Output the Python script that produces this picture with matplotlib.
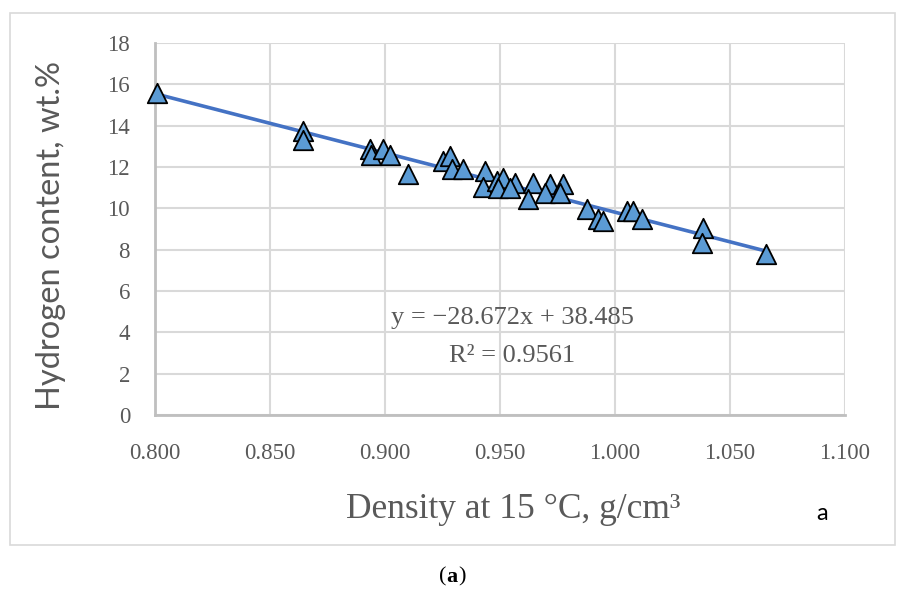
import numpy as np
import matplotlib
matplotlib.use('Agg')
import matplotlib.pyplot as plt
from matplotlib.patches import Rectangle

# density (g/cm3) and hydrogen content (wt.%) of the samples
density = [0.801, 0.8645, 0.8642, 0.8935, 0.894, 0.8993, 0.9022, 0.9101,
           0.9253, 0.9283, 0.9290, 0.9340, 0.9435, 0.9427, 0.9486, 0.9514,
           0.9493, 0.9565, 0.9543, 0.9645, 0.9623, 0.9717, 0.9696, 0.9775,
           0.9761, 0.9877, 0.9927, 0.9949, 1.0051, 1.0080, 1.0116, 1.0384,
           1.0377, 1.0657]
hydrogen = [15.6, 13.73, 13.33, 12.85, 12.6, 12.85, 12.6, 11.64,
            12.29, 12.53, 11.89, 11.89, 11.80, 11.05, 11.32, 11.48,
            11.0, 11.24, 11.0, 11.24, 10.43, 11.16, 10.76, 11.16,
            10.76, 9.95, 9.47, 9.39, 9.87, 9.87, 9.47, 9.06,
            8.34, 7.77]

# linear trend reported on the chart
slope = -28.672
intercept = 38.485
r2 = 0.9561

x_ticks = [0.800, 0.850, 0.900, 0.950, 1.000, 1.050, 1.100]
y_ticks = [0, 2, 4, 6, 8, 10, 12, 14, 16, 18]

serif = ['Liberation Serif', 'DejaVu Serif']
sans = ['Lato', 'DejaVu Sans']
grey_txt = '#595959'

fig = plt.figure(figsize=(9.08, 5.90), dpi=100)
W, H = 908, 590

# light frame around the chart area
fig.patches.append(Rectangle((10 / W, 1 - 545 / H), 885 / W, 532 / H,
                             transform=fig.transFigure, fill=False,
                             edgecolor='#D9D9D9', linewidth=1.2))

ax = fig.add_axes([155 / W, 1 - 415 / H, 690 / W, 372 / H])
ax.set_xlim(0.8, 1.1)
ax.set_ylim(0, 18)
ax.set_xticks(x_ticks)
ax.set_yticks(y_ticks)
ax.set_xticklabels([f'{v:.3f}' for v in x_ticks])
ax.set_yticklabels([str(v) for v in y_ticks])
ax.grid(True, color='#D9D9D9', linewidth=1.5)
ax.set_axisbelow(True)
for s in ['top', 'right']:
    ax.spines[s].set_visible(False)
for s in ['left', 'bottom']:
    ax.spines[s].set_color('#BFBFBF')
    ax.spines[s].set_linewidth(2)
ax.tick_params(length=0, labelsize=16.5, labelcolor=grey_txt)
ax.tick_params(axis='x', pad=20)
ax.tick_params(axis='y', pad=18)
for lab in ax.get_xticklabels() + ax.get_yticklabels():
    lab.set_family(serif)

xs = np.array([min(density), max(density)])
ax.plot(xs, slope * xs + intercept, color='#4472C4', linewidth=2.6, zorder=3)
ax.scatter(density, hydrogen, marker='^', s=196, facecolor='#5B9BD5',
           edgecolor='black', linewidth=1.3, zorder=4, clip_on=False)

fig.text(512 / W, 1 - 318 / H, f'y = \u221228.672x + 38.485',
         ha='center', va='center', fontsize=19, color=grey_txt, family=serif)
fig.text(512 / W, 1 - 356 / H, f'R\u00b2 = {r2}',
         ha='center', va='center', fontsize=19, color=grey_txt, family=serif)

fig.text(51 / W, 1 - 235 / H, 'Hydrogen content, wt.%', rotation=90,
         ha='center', va='center', fontsize=23.5, color=grey_txt, family=sans)
fig.text(513 / W, 1 - 510 / H, 'Density at 15 \u00b0C, g/cm\u00b3',
         ha='center', va='center', fontsize=25.5, color=grey_txt, family=serif)
fig.text(822 / W, 1 - 513 / H, 'a', ha='center', va='center',
         fontsize=17, color='black', family=sans)

# panel caption
fig.text(443 / W, 1 - 577 / H, '(', ha='center', va='center',
         fontsize=16, family=serif)
fig.text(452 / W, 1 - 577 / H, 'a', ha='center', va='center',
         fontsize=16, family=serif, fontweight='bold')
fig.text(462 / W, 1 - 577 / H, ')', ha='center', va='center',
         fontsize=16, family=serif)

fig.savefig('out.png', dpi=100)
